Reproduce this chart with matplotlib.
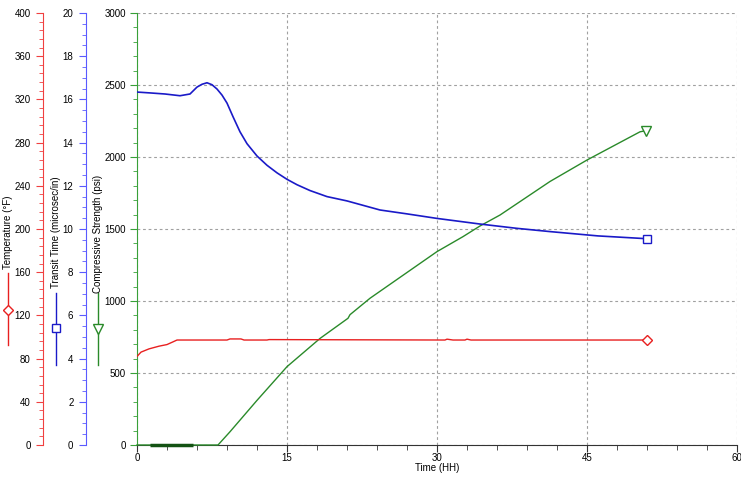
import matplotlib
matplotlib.use("Agg")
import matplotlib.pyplot as plt
from matplotlib.lines import Line2D
from matplotlib.ticker import MultipleLocator

plt.rcParams["font.family"] = ["Liberation Sans", "DejaVu Sans"]

# Temperature (degF)
time_temp = [0, 0.4, 1.2, 2.2, 3.0, 3.6, 4.0, 9.0, 9.3, 10.4, 10.7, 13.0, 13.2,
             30.8, 31.0, 31.6, 32.8, 33.0, 33.4, 51.0]
temp = [82, 86, 89, 91.5, 93, 95.5, 97.2, 97.2, 98.2, 98.2, 97.2, 97.2, 97.6,
        97.2, 98.0, 97.2, 97.2, 98.0, 97.2, 97.2]

# Transit time (microsec/in)
time_tt = [0, 1.3, 2.8, 4.3, 5.3, 6.0, 6.5, 7.0, 7.5, 8.0, 8.5, 9.0, 9.6, 10.3,
           11.0, 12.0, 13.0, 14.0, 15.0, 16.0, 17.3, 19.0, 21.0, 24.3, 27.0, 30.0,
           34.3, 38.0, 41.3, 46.1, 51.0]
transit = [16.34, 16.30, 16.25, 16.17, 16.25, 16.57, 16.70, 16.77, 16.68, 16.48,
           16.20, 15.83, 15.20, 14.50, 13.95, 13.38, 12.95, 12.60, 12.30, 12.05,
           11.78, 11.50, 11.30, 10.88, 10.70, 10.49, 10.23, 10.03, 9.88, 9.68, 9.55]

# Compressive strength (psi)
time_cs = [0, 1.2, 5.6, 8.1, 9.3, 12.0, 15.0, 18.3, 21.1, 21.3, 23.3, 27.6, 30.0,
           32.6, 34.3, 36.3, 41.3, 45.0, 48.0, 50.3, 50.9]
strength = [0, 0, 0, 0, 92, 310, 544, 740, 880, 905, 1019, 1227, 1343,
            1447, 1521, 1597, 1830, 1979, 2090, 2175, 2183]
idle_t = [1.3, 5.6]
idle_cs = [0, 0]

red, blue, green = "#e82020", "#1a1ac8", "#2a8a2a"
red_ax, blue_ax, green_ax = "#f04040", "#5a5aff", "#38a038"
fs = 7

fig = plt.figure(figsize=(7.41, 4.82), dpi=100)
W, H = 741, 482
ax = fig.add_axes([137 / W, (H - 445) / H, 600 / W, 432 / H])

ax.set_xlim(0, 60)
ax.set_ylim(0, 3000)
ax.xaxis.set_major_locator(MultipleLocator(15))
ax.xaxis.set_minor_locator(MultipleLocator(3))
ax.yaxis.set_major_locator(MultipleLocator(500))
ax.yaxis.set_minor_locator(MultipleLocator(100))
ax.grid(True, which="major", color="#a0a0a0", linestyle=(0, (2.5, 2.5)), linewidth=0.8)
ax.set_axisbelow(True)

for s in ["top", "right"]:
    ax.spines[s].set_visible(False)
ax.spines["left"].set_color(green_ax)
ax.spines["bottom"].set_color("#333333")
ax.tick_params(axis="y", which="both", colors=green_ax, labelcolor="black",
               labelsize=fs, direction="out", pad=3)
ax.tick_params(axis="y", which="major", length=5)
ax.tick_params(axis="y", which="minor", length=3)
ax.tick_params(axis="x", which="both", colors="#333333", labelcolor="black",
               labelsize=fs, direction="out", pad=1)
ax.tick_params(axis="x", which="major", length=5)
ax.tick_params(axis="x", which="minor", length=3.5)
ax.set_xlabel("Time (HH)", fontsize=fs, labelpad=0)

ax_t = ax.twinx()
ax_b = ax.twinx()
for a, pos, col, lim, maj, mnr in [(ax_t, (43 - 137) / 600, red_ax, 400, 40, 8),
                                   (ax_b, (86 - 137) / 600, blue_ax, 20, 2, 0.5)]:
    a.set_ylim(0, lim)
    for s in ["top", "right", "bottom"]:
        a.spines[s].set_visible(False)
    a.spines["left"].set_visible(True)
    a.spines["left"].set_position(("axes", pos))
    a.spines["left"].set_color(col)
    a.yaxis.set_ticks_position("left")
    a.yaxis.set_label_position("left")
    a.yaxis.set_major_locator(MultipleLocator(maj))
    a.yaxis.set_minor_locator(MultipleLocator(mnr))
    a.tick_params(axis="y", which="both", colors=col, labelcolor="black",
                  labelsize=fs, direction="out", pad=4)
    a.tick_params(axis="y", which="major", length=5)
    a.tick_params(axis="y", which="minor", length=3)

ax.plot(time_cs, strength, color=green, lw=1.0, marker="v", markevery=[-1],
        markersize=7, markerfacecolor="white", markeredgecolor=green, zorder=3,
        clip_on=False)
ax.plot(idle_t, idle_cs, color="#145214", lw=2.5, zorder=3, clip_on=False,
        solid_capstyle="butt")
ax_t.plot(time_temp, temp, color=red, lw=1.0, marker="D", markevery=[-1],
          markersize=5, markerfacecolor="white", markeredgecolor=red)
ax_b.plot(time_tt, transit, color=blue, lw=1.2, marker="s", markevery=[-1],
          markersize=6, markerfacecolor="white", markeredgecolor=blue)

# axis titles with their legend symbols
labels = [("Temperature (°F)", 8, 232, 273, 345, 310, red, "D", 5),
          ("Transit Time (microsec/in)", 56, 232, 293, 365, 328, blue, "s", 6),
          ("Compressive Strength (psi)", 98, 234, 293, 365, 329, green, "v", 7)]
for txt, x, yc, y1, y2, ym, col, mk, ms in labels:
    fig.text(x / W, 1 - yc / H, txt, rotation=90, ha="center", va="center",
             fontsize=fs)
    fig.add_artist(Line2D([x / W, x / W], [1 - y1 / H, 1 - y2 / H],
                          transform=fig.transFigure, color=col, lw=1.0))
    fig.add_artist(Line2D([x / W], [1 - ym / H], transform=fig.transFigure,
                          marker=mk, markersize=ms, markerfacecolor="white",
                          markeredgecolor=col, color=col))

fig.savefig("out.png", dpi=100)
